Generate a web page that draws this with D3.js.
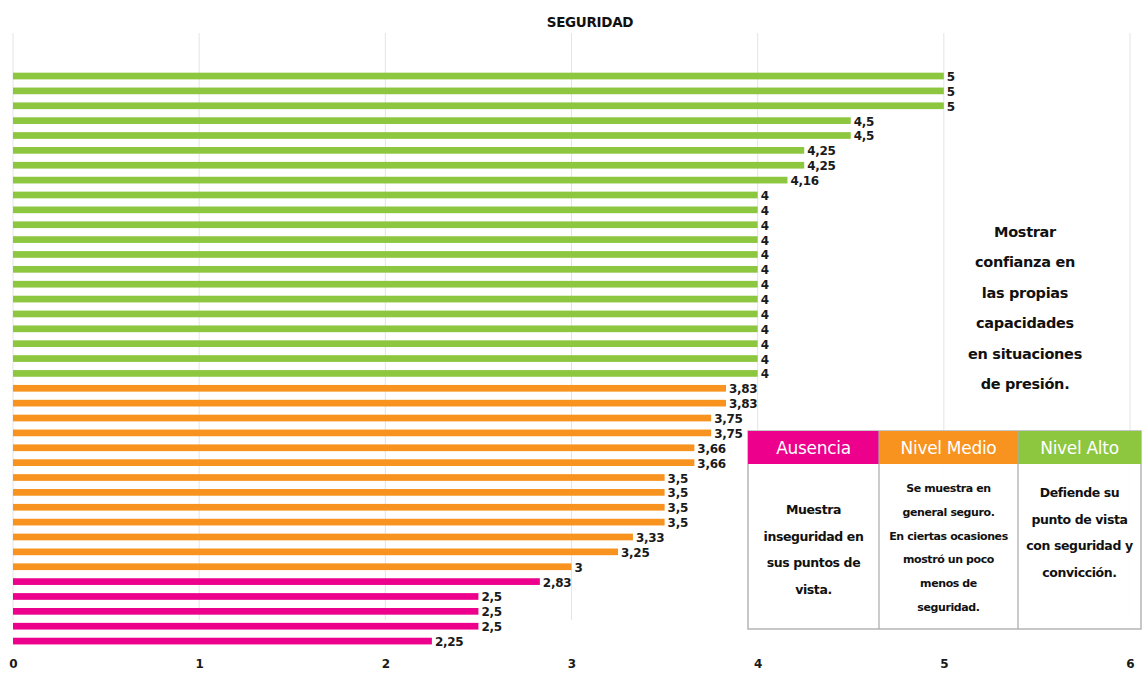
<!DOCTYPE html>
<html>
<head>
<meta charset="utf-8">
<script src="https://cdn.jsdelivr.net/npm/d3@7"></script>
<style>
  html, body { margin: 0; padding: 0; background: #fff; }
  svg { display: block; font-family: "DejaVu Sans", "Lato", sans-serif; }
</style>
</head>
<body>
<svg id="chart" width="1143" height="677"></svg>
<script>
// Scores per evaluation, top to bottom
const values = [
  5, 5, 5, 4.5, 4.5, 4.25, 4.25, 4.16,
  4, 4, 4, 4, 4, 4, 4, 4, 4, 4, 4, 4, 4,
  3.83, 3.83, 3.75, 3.75, 3.66, 3.66, 3.5, 3.5, 3.5, 3.5, 3.33, 3.25, 3,
  2.83, 2.5, 2.5, 2.5, 2.25
];
// Level reached by each score (same order as values)
const levels = [
  "alto", "alto", "alto", "alto", "alto", "alto", "alto", "alto",
  "alto", "alto", "alto", "alto", "alto", "alto", "alto", "alto", "alto", "alto", "alto", "alto", "alto",
  "medio", "medio", "medio", "medio", "medio", "medio", "medio", "medio", "medio", "medio", "medio", "medio", "medio",
  "ausencia", "ausencia", "ausencia", "ausencia", "ausencia"
];
const tickValues = [0, 1, 2, 3, 4, 5, 6];

const title = "SEGURIDAD";
const noteLines = ["Mostrar", "confianza en", "las propias", "capacidades", "en situaciones", "de presión."];

// Legend table
const levelKeys = ["ausencia", "medio", "alto"];
const levelNames = ["Ausencia", "Nivel Medio", "Nivel Alto"];
const levelColors = ["#EC008C", "#F7931E", "#8DC63F"];
const levelDescriptions = [
  ["Muestra", "inseguridad en", "sus puntos de", "vista."],
  ["Se muestra en", "general seguro.", "En ciertas ocasiones", "mostró un poco", "menos de", "seguridad."],
  ["Defiende su", "punto de vista", "con seguridad y", "convicción."]
];

const svg = d3.select("#chart");

const x = d3.scaleLinear().domain([0, 6]).range([13, 1130]);
const y = d3.scaleBand().domain(d3.range(values.length)).range([69.7, 647.4]).paddingInner(0.55).paddingOuter(0.2);
const color = d3.scaleOrdinal().domain(levelKeys).range(levelColors);
const fmt = v => String(v).replace(".", ",");

// Vertical gridlines
svg.append("g")
  .selectAll("line")
  .data(tickValues)
  .join("line")
  .attr("x1", d => x(d)).attr("x2", d => x(d))
  .attr("y1", 33).attr("y2", 620)
  .attr("stroke", "#e4e4e4").attr("stroke-width", 1);

// Title
svg.append("text")
  .attr("x", 590).attr("y", 27)
  .attr("text-anchor", "middle")
  .attr("font-size", 13.5).attr("font-weight", 700)
  .attr("letter-spacing", -0.3)
  .attr("fill", "#111")
  .text(title);

// Bars
svg.append("g")
  .selectAll("rect")
  .data(values)
  .join("rect")
  .attr("x", x(0))
  .attr("y", (d, i) => y(i))
  .attr("width", d => x(d) - x(0))
  .attr("height", y.bandwidth())
  .attr("fill", (d, i) => color(levels[i]));

// Value labels
svg.append("g")
  .selectAll("text")
  .data(values)
  .join("text")
  .attr("x", d => x(d) + 3)
  .attr("y", (d, i) => y(i) + y.bandwidth() / 2 + 5)
  .attr("font-size", 12).attr("font-weight", 700)
  .attr("fill", "#1a1a1a")
  .attr("letter-spacing", -0.3)
  .text(d => fmt(d));

// Bottom axis labels
const axis = d3.axisBottom(x).tickValues(tickValues).tickSize(0).tickFormat(d => d);
const gAxis = svg.append("g").attr("transform", "translate(0,656)").call(axis);
gAxis.select(".domain").remove();
gAxis.selectAll("text")
  .attr("font-family", "DejaVu Sans, sans-serif")
  .attr("font-size", 12).attr("font-weight", 700)
  .attr("fill", "#1a1a1a");

// Side note
svg.append("g")
  .selectAll("text")
  .data(noteLines)
  .join("text")
  .attr("x", 1025)
  .attr("y", (d, i) => 237 + i * 30.4)
  .attr("text-anchor", "middle")
  .attr("font-size", 14.5).attr("font-weight", 700)
  .attr("letter-spacing", -0.3)
  .attr("fill", "#111")
  .text(d => d);

// Legend table
const tbl = { left: 748, top: 431, headH: 33, bottom: 629 };
const colEdges = [748, 879, 1018, 1141];
const table = svg.append("g");

table.append("rect")
  .attr("x", tbl.left).attr("y", tbl.top)
  .attr("width", colEdges[3] - tbl.left).attr("height", tbl.bottom - tbl.top)
  .attr("fill", "#fff").attr("fill-opacity", 0.92)
  .attr("stroke", "#b5b5b5").attr("stroke-width", 1.5);

levelNames.forEach((name, i) => {
  const x0 = colEdges[i], x1 = colEdges[i + 1], cx = (x0 + x1) / 2;
  table.append("rect")
    .attr("x", x0).attr("y", tbl.top)
    .attr("width", x1 - x0).attr("height", tbl.headH)
    .attr("fill", levelColors[i]);
  table.append("text")
    .attr("x", cx).attr("y", tbl.top + tbl.headH / 2 + 6)
    .attr("text-anchor", "middle")
    .attr("font-size", 17).attr("fill", "#fff")
    .attr("letter-spacing", -0.3)
    .text(name);
  if (i > 0) {
    table.append("line")
      .attr("x1", x0).attr("x2", x0)
      .attr("y1", tbl.top).attr("y2", tbl.bottom)
      .attr("stroke", "#a8a8a8").attr("stroke-width", 1.2);
  }
});

// Description lines in each column
const descLayout = [
  { y0: 514, step: 26.7, size: 12.5 },
  { y0: 492, step: 23.8, size: 11 },
  { y0: 497, step: 26.7, size: 12.5 }
];
levelDescriptions.forEach((lines, i) => {
  const cx = (colEdges[i] + colEdges[i + 1]) / 2;
  table.append("g")
    .selectAll("text")
    .data(lines)
    .join("text")
    .attr("x", cx)
    .attr("y", (d, j) => descLayout[i].y0 + j * descLayout[i].step)
    .attr("text-anchor", "middle")
    .attr("font-size", descLayout[i].size).attr("font-weight", 700)
    .attr("letter-spacing", -0.4)
    .attr("fill", "#111")
    .text(d => d);
});
</script>
</body>
</html>
